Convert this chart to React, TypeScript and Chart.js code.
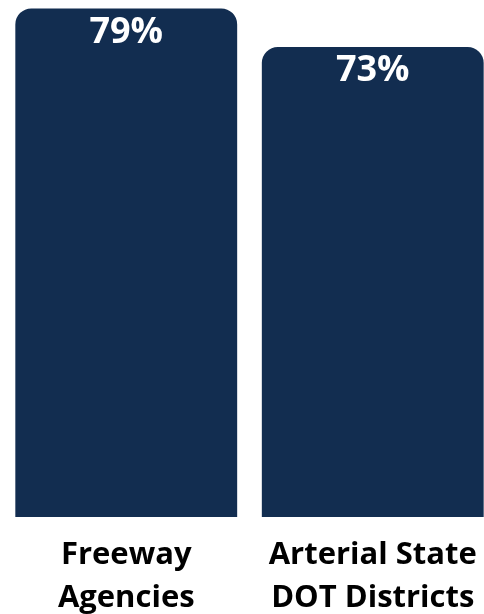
import React, { useEffect, useRef } from "react";
import { Chart, registerables } from "chart.js";

Chart.register(...registerables);

const categories: string[][] = [["Freeway", "Agencies"], ["Arterial State", "DOT Districts"]];
const values: number[] = [79, 73];
const valueLabels: string[] = ["79%", "73%"];

const BAR_COLOR = "#122d50";
const FONT = "'Open Sans', Lato, sans-serif";

const valueLabelPlugin = {
  id: "valueLabels",
  afterDatasetsDraw(chart: any) {
    const meta = chart.getDatasetMeta(0);
    const ctx = chart.ctx;
    ctx.save();
    ctx.fillStyle = "#ffffff";
    ctx.font = `bold 36px ${FONT}`;
    ctx.textAlign = "center";
    ctx.textBaseline = "middle";
    meta.data.forEach((el: any, i: number) => {
      ctx.fillText(valueLabels[i], el.x, el.y + 24);
    });
    ctx.restore();
  },
};

export default function App() {
  const ref = useRef<HTMLCanvasElement | null>(null);
  useEffect(() => {
    if (!ref.current) return;
    const chart = new Chart(ref.current, {
      type: "bar",
      data: {
        labels: categories,
        datasets: [
          {
            data: values,
            backgroundColor: BAR_COLOR,
            borderRadius: { topLeft: 16, topRight: 16, bottomLeft: 0, bottomRight: 0 },
            borderSkipped: false,
            barPercentage: 0.9,
            categoryPercentage: 1,
          },
        ],
      },
      options: {
        responsive: false,
        animation: false,
        layout: { padding: { top: 2, left: 3, right: 0, bottom: 0 } },
        plugins: { legend: { display: false }, tooltip: { enabled: false } },
        scales: {
          y: { display: false, min: 0, max: 80 },
          x: {
            grid: { display: false, drawTicks: false },
            border: { display: false },
            afterFit: (scale: any) => {
              scale.height = 97;
            },
            ticks: {
              color: "#000000",
              padding: 16,
              maxRotation: 0,
              autoSkip: false,
              font: { family: FONT, size: 31, weight: "bold", lineHeight: 1.4 },
            },
          },
        },
      },
      plugins: [valueLabelPlugin],
    });
    return () => chart.destroy();
  }, []);
  return (
    <div style={{ position: "fixed", left: 0, top: 0, width: 484, height: 614, overflow: "hidden", background: "#fff" }}>
      <canvas ref={ref} width={496} height={614} style={{ width: 496, height: 614, display: "block" }} />
    </div>
  );
}
